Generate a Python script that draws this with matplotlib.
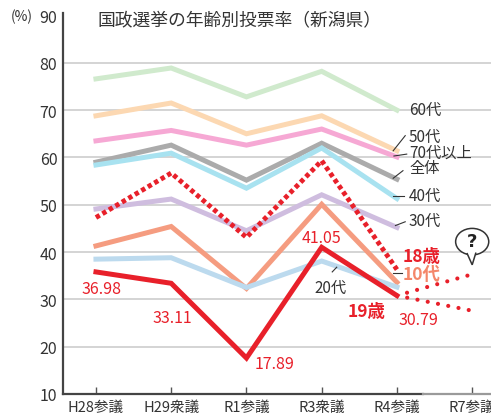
import matplotlib
matplotlib.use('Agg')
import matplotlib.pyplot as plt
from matplotlib.patches import Ellipse, Polygon

plt.rcParams['font.family'] = ['Noto Sans CJK JP', 'DejaVu Sans']

elections = ['H28参議', 'H29衆議', 'R1参議', 'R3衆議', 'R4参議', 'R7参議']

# turnout (%) per age group, H28..R4
age_60s = [76.6, 78.9, 72.8, 78.2, 70.0]
age_50s = [68.8, 71.5, 65.0, 68.8, 61.4]
age_70plus = [63.5, 65.7, 62.6, 66.0, 60.1]
overall = [59.0, 62.6, 55.2, 63.0, 55.4]
age_40s = [58.4, 60.9, 53.5, 62.0, 51.3]
age_18 = [47.3, 56.7, 43.1, 59.3, 36.3]
age_30s = [49.1, 51.2, 44.5, 52.1, 45.2]
age_10s = [41.3, 45.4, 32.3, 50.1, 33.6]
age_20s = [38.5, 38.8, 32.5, 38.1, 32.6]
age_19 = [35.8, 33.4, 17.6, 41.0, 30.8]
age_19_labels = ['36.98', '33.11', '17.89', '41.05', '30.79']
# speculative R7 guesses (dotted)
r7_upper = 35.3
r7_lower = 27.6

RED = '#e8202a'

fig = plt.figure(figsize=(4.91, 4.14), dpi=100)
ax = fig.add_axes([0.128, 0.0459, 0.872, 0.920])

x = list(range(5))
pastel = [
    (age_60s, '#d0eacd'),
    (age_50s, '#fcd8b2'),
    (age_70plus, '#f6a8d4'),
    (overall, '#ababab'),
    (age_40s, '#a8e2f0'),
    (age_30s, '#cfbddf'),
    (age_10s, '#f59c80'),
    (age_20s, '#bcdaee'),
]
for vals, col in pastel:
    ax.plot(x, vals, color=col, lw=3.6, solid_joinstyle='miter', zorder=3)

ax.plot(x, age_18, color=RED, lw=3.5, ls=(0, (0.9, 0.65)),
        dash_capstyle='butt', zorder=4)
ax.plot(x, age_19, color=RED, lw=3.6, solid_joinstyle='miter', zorder=5)
ax.plot([4, 5], [age_19[-1], r7_upper], color=RED, lw=3.0,
        ls=(0, (0.01, 2.5)), dash_capstyle='round', clip_on=False, zorder=5)
ax.plot([4, 5], [age_19[-1], r7_lower], color=RED, lw=3.0,
        ls=(0, (0.01, 2.5)), dash_capstyle='round', clip_on=False, zorder=5)

# axes styling
ax.set_xlim(-0.44, 5.25)
ax.set_ylim(10, 90.5)
ax.set_yticks(range(10, 91, 10))
ax.set_yticklabels([str(v) for v in range(10, 91, 10)])
ax.set_xticks(range(6))
ax.set_xticklabels(elections)
for v in range(20, 90, 10):
    ax.axhline(v, color='#c9c9c9', lw=1.1, zorder=1)
for s in ['top', 'right']:
    ax.spines[s].set_visible(False)
ax.spines['left'].set_color('#444444')
ax.spines['left'].set_linewidth(1.6)
ax.spines['bottom'].set_color('#444444')
ax.spines['bottom'].set_linewidth(1.6)
ax.spines['bottom'].set_bounds(-0.44, 4.35)
ax.plot([4.35, 5.25], [10, 10], color='#9a9a9a', lw=1.6, clip_on=False, zorder=6)
ax.tick_params(axis='y', length=0, pad=4, labelsize=11.5, labelcolor='#333333')
ax.tick_params(axis='x', direction='in', length=5, width=1, color='#555555',
               pad=4, labelsize=10.5, labelcolor='#333333')

fig.text(0.022, 0.958, '(%)', fontsize=10, color='#333333', va='center')
fig.text(0.198, 0.952, '国政選挙の年齢別投票率（新潟県）', fontsize=12.8,
         color='#333333', va='center')

# series labels
lab = dict(fontsize=11, color='#333333', va='center', ha='left', zorder=7)
ax.text(4.16, 70.2, '60代', **lab)
ax.text(4.16, 64.5, '50代', **lab)
ax.text(4.16, 61.1, '70代以上', **lab)
ax.text(4.16, 57.9, '全体', **lab)
ax.text(4.16, 51.9, '40代', **lab)
ax.text(4.16, 46.6, '30代', **lab)
ax.text(2.91, 32.6, '20代', **lab)

leaders = [
    ((3.95, 61.4), (4.11, 64.6)),
    ((3.96, 60.3), (4.13, 60.7)),
    ((3.95, 55.6), (4.08, 57.2)),
    ((3.95, 51.9), (4.10, 51.9)),
    ((3.98, 45.6), (4.11, 46.4)),
    ((3.95, 35.6), (4.07, 35.6)),
    ((3.14, 35.8), (3.20, 36.8)),
]
for (x0, y0), (x1, y1) in leaders:
    ax.plot([x0, x1], [y0, y1], color='#333333', lw=0.8, zorder=7)

ax.text(4.08, 39.2, '18歳', fontsize=12.5, fontweight='bold', color=RED,
        va='center', ha='left', zorder=7)
ax.text(4.08, 35.4, '10代', fontsize=12.5, fontweight='bold', color='#f4876a',
        va='center', ha='left', zorder=7)
ax.text(3.34, 27.6, '19歳', fontsize=12.5, fontweight='bold', color=RED,
        va='center', ha='left', zorder=7)

# value labels for 19歳
value_pos = [(0.08, 32.2), (1.02, 26.2), (2.38, 16.5), (3.0, 43.1), (4.28, 25.8)]
for (vx, vy), t in zip(value_pos, age_19_labels):
    ax.text(vx, vy, t, fontsize=11.5, color=RED, ha='center', va='center', zorder=7)

# "?" speech bubble
bubble = Ellipse((5.0, 42.2), 0.44, 5.6, fc='white', ec='#333333', lw=1.1,
                 clip_on=False, zorder=8)
ax.add_patch(bubble)
tail = Polygon([(4.93, 39.8), (5.0, 37.3), (5.05, 39.9)], closed=False,
               fc='white', ec='#333333', lw=1.1, clip_on=False, zorder=9)
ax.add_patch(tail)
ax.text(5.0, 42.4, '?', fontsize=13, fontweight='bold', color='#222222',
        ha='center', va='center', zorder=10, family='DejaVu Sans')

fig.savefig('out.png', dpi=100)
